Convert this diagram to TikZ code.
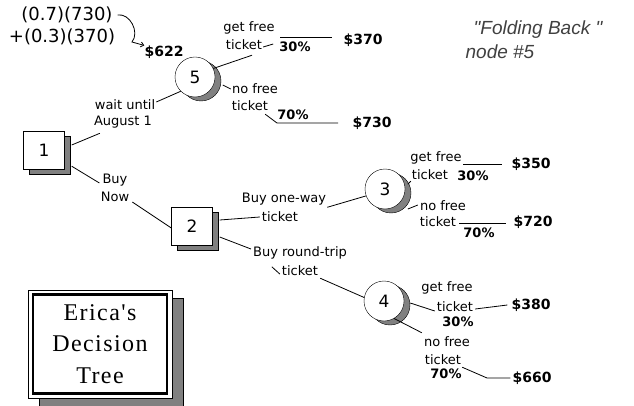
\documentclass[tikz,border=0pt]{standalone}
\usepackage{fontspec}
\setmainfont{DejaVu Sans}
\newfontfamily\titlefont[LetterSpace=6]{Liberation Serif}
\newfontfamily\notefont{Liberation Sans}
\usetikzlibrary{shadows,arrows.meta}
\begin{document}
\begin{tikzpicture}[x=1pt,y=-1pt,
  lbl/.style={inner sep=0pt, font=\fontsize{13}{14}\selectfont},
  val/.style={inner sep=0pt, font=\bfseries\fontsize{14}{15}\selectfont},
  pct/.style={inner sep=0pt, font=\bfseries\fontsize{13}{14}\selectfont},
  expr/.style={inner sep=0pt, font=\fontsize{18}{19}\selectfont},
  note/.style={inner sep=0pt, font=\notefont\itshape\fontsize{19}{20}\selectfont, text=black!75},
  shade/.style={fill=black!50, draw=black, opacity=1},
  decbox/.style={draw, fill=white, minimum width=41pt, minimum height=38pt, inner sep=0pt,
    font=\fontsize{17}{17}\selectfont,
    drop shadow={shade, shadow xshift=6pt, shadow yshift=-5pt}},
  chance/.style={circle, draw, fill=white, minimum size=40pt, inner sep=0pt,
    font=\fontsize{17}{17}\selectfont,
    drop shadow={shade, shadow xshift=6pt, shadow yshift=-4pt}},
  conn/.style={draw, line width=0.8pt}
]
\useasboundingbox (0,0) rectangle (634,406);

% decision and chance nodes
\node[decbox] (b1) at (44,150) {1};
\node[decbox] (b2) at (192,226) {2};
\node[chance] (c5) at (195,77) {5};
\node[chance] (c3) at (385,189) {3};
\node[chance] (c4) at (384,301) {4};

% folding back computation
\node[expr] (e1) at (67,15) {(0.7)(730)};
\node[expr] (e2) at (62,37) {+(0.3)(370)};
\node[val] (v622) at (164,52) {\$622};
\coordinate (kink) at (132,42);
\draw[conn, -{Straight Barb[length=3pt,width=5pt]}] ([xshift=5pt]e1.east) .. controls +(12,-2) and +(8,-10) .. (kink) -- (v622.north west);

% branches of node 1
\node[lbl] (wait) at (125,105) {wait until};
\node[lbl] (aug) at (123,122) {August 1};
\node[lbl] (buy) at (115,180) {Buy};
\node[lbl] (now) at (115,197) {Now};
\draw[conn] ([xshift=7pt,yshift=5pt]b1.east) -- ([xshift=6pt,yshift=-5pt]aug.south west);
\draw[conn] ([xshift=1pt,yshift=3pt]wait.east) -- (c5.225);
\draw[conn] ([xshift=7pt,yshift=3pt]b1.south east) -- ([xshift=-3pt,yshift=-3pt]buy.west);
\draw[conn] ([xshift=3pt]now.south east) -- ([yshift=-2pt]b2.west);

% branches of node 5
\node[lbl] (gf5) at (249,28) {get free};
\node[lbl] (tk5a) at (244,45) {ticket};
\node[pct] (p5a) at (295,47) {30\%};
\node[val] (v370) at (363,40) {\$370};
\coordinate (h5a) at (280,37);
\coordinate (h5b) at (332,37);
\draw[conn] (c5.25) -- ([xshift=8pt,yshift=-5pt]tk5a.south);
\draw[conn] ([xshift=1pt,yshift=-2pt]tk5a.east) -- ([xshift=11pt,yshift=1pt]tk5a.east);
\draw[conn] (h5a) -- (h5b);

\node[lbl] (nf5) at (255,89) {no free};
\node[lbl] (tk5b) at (250,106) {ticket};
\node[pct] (p5b) at (293,115) {70\%};
\node[val] (v730) at (372,123) {\$730};
\coordinate (k5) at (277,123);
\coordinate (e5) at (338,123);
\draw[conn] ([xshift=-9pt,yshift=4pt]nf5.west) -- ([xshift=-1pt]nf5.west);
\draw[conn] ([xshift=-3pt,yshift=-3pt]tk5b.south east) -- (k5) -- (e5);

% branches of node 2
\node[lbl] (ow) at (284,199) {Buy one-way};
\node[lbl] (tk2a) at (280,217) {ticket};
\draw[conn] ([xshift=7pt,yshift=6pt]b2.east) -- ([xshift=-2pt]tk2a.west);
\draw[conn] ([xshift=1pt,yshift=-2pt]ow.south east) -- (c3.200);

\node[lbl] (rt) at (300,253) {Buy round-trip};
\node[lbl] (tk2b) at (300,271) {ticket};
\draw[conn] ([xshift=7pt,yshift=-11pt]b2.east) -- ([xshift=-2pt,yshift=4pt]rt.west);
\draw[conn] ([xshift=-10pt,yshift=-1pt]tk2b.north west) -- ([xshift=-2pt,yshift=-3pt]tk2b.west);
\draw[conn] ([xshift=2pt,yshift=-2pt]tk2b.south east) -- (c4.170);

% branches of node 3
\node[lbl] (gf3) at (436,158) {get free};
\node[lbl] (tk3a) at (430,175) {ticket};
\node[pct] (p3a) at (473,176) {30\%};
\node[val] (v350) at (531,164) {\$350};
\coordinate (h3a) at (463,164);
\coordinate (h3b) at (502,164);
\draw[conn] (h3a) -- (h3b);
\draw[conn] ([xshift=-4pt,yshift=-4pt]tk3a.south west) -- ([xshift=-1pt,yshift=-1pt]tk3a.south west);

\node[lbl] (nf3) at (443,206) {no free};
\node[lbl] (tk3b) at (438,222) {ticket};
\node[pct] (p3b) at (479,233) {70\%};
\node[val] (v720) at (533,222) {\$720};
\coordinate (h3c) at (459,223);
\coordinate (h3d) at (506,223);
\draw[conn] ([xshift=-12pt,yshift=-3pt]nf3.west) -- ([xshift=-2pt,yshift=1pt]nf3.west);
\draw[conn] (h3c) -- (h3d);

% branches of node 4
\node[lbl] (gf4) at (447,288) {get free};
\node[lbl] (tk4a) at (455,307) {ticket};
\node[pct] (p4a) at (458,322) {30\%};
\node[val] (v380) at (531,305) {\$380};
\draw[conn] ([xshift=6pt,yshift=-2pt]c4.east) -- ([xshift=-2pt,yshift=-4pt]tk4a.west);
\draw[conn] ([xshift=2pt,yshift=-2pt]tk4a.east) -- ([xshift=-4pt]v380.west);

\node[lbl] (nf4) at (447,342) {no free};
\node[lbl] (tk4b) at (443,360) {ticket};
\node[pct] (p4b) at (446,374) {70\%};
\node[val] (v660) at (532,378) {\$660};
\coordinate (k4) at (487,378);
\draw[conn] (c4.300) -- ([xshift=-2pt,yshift=4pt]nf4.north west);
\draw[conn] ([xshift=1pt,yshift=-2pt]tk4b.south east) -- (k4) -- ([xshift=-2pt]v660.west);

% note
\node[note] (fb1) at (538,30) {\symbol{34}Folding Back \symbol{34}};
\node[note] (fb2) at (500,52) {node \#5};

% title box
\node[draw, fill=white, minimum width=144pt, minimum height=108pt, line width=0.8pt,
  drop shadow={shade, shadow xshift=11pt, shadow yshift=-8pt}] (frame) at (100,344) {};
\node[draw, line width=2.6pt, minimum width=134pt, minimum height=99pt, align=center,
  font=\titlefont\fontsize{24}{31.5}\selectfont] (title) at (100,344) {Erica\symbol{39}s\\Decision\\Tree};
\end{tikzpicture}
\end{document}
